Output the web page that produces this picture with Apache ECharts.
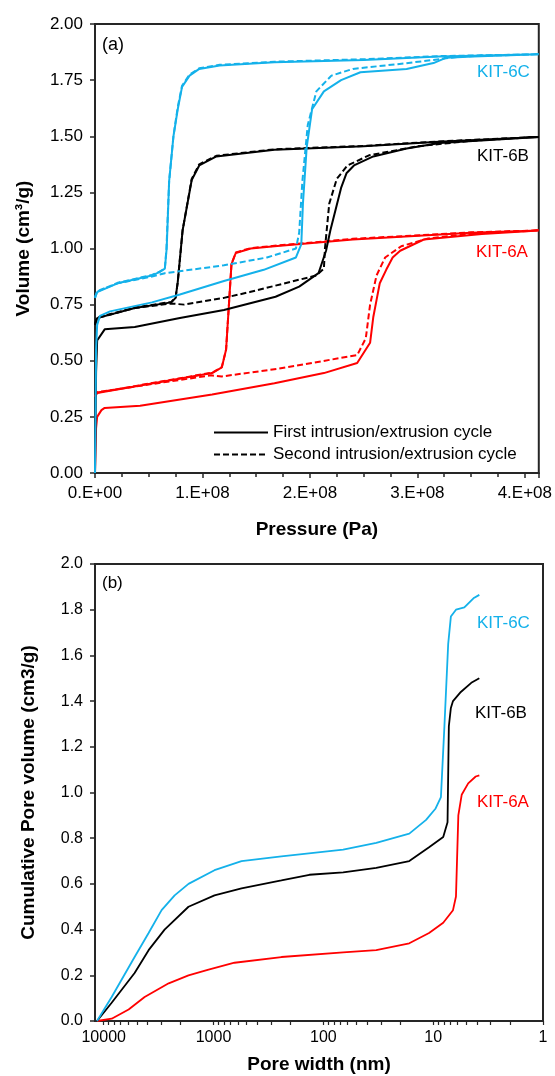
<!DOCTYPE html>
<html>
<head>
<meta charset="utf-8">
<script src="https://cdn.jsdelivr.net/npm/echarts@6/dist/echarts.min.js"></script>
<style>
  html, body { margin: 0; padding: 0; background: #fff; }
  #chart { width: 555px; height: 1076px; }
</style>
</head>
<body>
<div id="chart"></div>
<script>
// (a) intrusion/extrusion cycles: [pressure Pa, volume cm3/g], in measured order
var kit6cFirst = [
  [0, 0], [0.01e8, 0.55], [0.02e8, 0.66], [0.046e8, 0.70], [0.14e8, 0.72], [0.53e8, 0.76],
  [0.79e8, 0.795], [1.2e8, 0.855], [1.57e8, 0.905], [1.87e8, 0.96], [1.92e8, 1.02],
  [1.935e8, 1.20], [1.97e8, 1.45], [2.02e8, 1.62], [2.13e8, 1.70], [2.29e8, 1.75],
  [2.47e8, 1.785], [2.9e8, 1.80], [3.15e8, 1.826], [3.27e8, 1.85], [3.52e8, 1.855], [4.13e8, 1.865],
  // extrusion
  [3.2e8, 1.855], [2.5e8, 1.84], [1.67e8, 1.83], [1.16e8, 1.815], [0.97e8, 1.80], [0.88e8, 1.77],
  [0.81e8, 1.72], [0.77e8, 1.62], [0.73e8, 1.50], [0.69e8, 1.30], [0.667e8, 1.0],
  [0.65e8, 0.91], [0.60e8, 0.895], [0.53e8, 0.88], [0.21e8, 0.845], [0.02e8, 0.806], [0, 0.78]
];
var kit6cSecond = [
  [0, 0.78], [0.02e8, 0.81], [0.21e8, 0.845], [0.53e8, 0.875], [0.65e8, 0.89], [1.2e8, 0.925],
  [1.6e8, 0.96], [1.87e8, 1.0], [1.9e8, 1.07], [1.93e8, 1.30], [1.98e8, 1.55], [2.06e8, 1.70],
  [2.2e8, 1.77], [2.4e8, 1.80], [2.89e8, 1.825], [3.15e8, 1.84], [3.4e8, 1.855], [3.7e8, 1.86], [4.13e8, 1.865],
  // extrusion
  [3.2e8, 1.857], [2.5e8, 1.843], [1.67e8, 1.832], [1.16e8, 1.818], [0.97e8, 1.803], [0.88e8, 1.775],
  [0.81e8, 1.725], [0.77e8, 1.63], [0.73e8, 1.50], [0.69e8, 1.30], [0.665e8, 1.0],
  [0.65e8, 0.91], [0.60e8, 0.897], [0.53e8, 0.882], [0.21e8, 0.847], [0.02e8, 0.808], [0, 0.785]
];
var kit6bFirst = [
  [0, 0], [0.01e8, 0.45], [0.02e8, 0.59], [0.09e8, 0.64], [0.37e8, 0.65], [0.79e8, 0.69],
  [1.2e8, 0.726], [1.68e8, 0.785], [1.9e8, 0.83], [2.08e8, 0.89], [2.15e8, 0.99],
  [2.19e8, 1.08], [2.29e8, 1.27], [2.34e8, 1.335], [2.41e8, 1.37], [2.59e8, 1.41],
  [2.9e8, 1.445], [3.21e8, 1.47], [4.13e8, 1.497],
  // extrusion
  [3.2e8, 1.475], [2.5e8, 1.455], [1.67e8, 1.44], [1.13e8, 1.41], [0.97e8, 1.37],
  [0.90e8, 1.305], [0.815e8, 1.08], [0.77e8, 0.85], [0.75e8, 0.78], [0.71e8, 0.76],
  [0.37e8, 0.735], [0.02e8, 0.69], [0, 0.66]
];
var kit6bSecond = [
  [0, 0.66], [0.02e8, 0.69], [0.37e8, 0.735], [0.71e8, 0.755], [0.83e8, 0.75], [1.2e8, 0.78],
  [1.44e8, 0.806], [2.06e8, 0.88], [2.13e8, 0.91], [2.14e8, 1.0], [2.18e8, 1.2],
  [2.25e8, 1.31], [2.35e8, 1.37], [2.55e8, 1.415], [3.0e8, 1.455], [3.5e8, 1.48], [4.13e8, 1.497],
  // extrusion
  [3.2e8, 1.477], [2.5e8, 1.457], [1.67e8, 1.442], [1.13e8, 1.413], [0.97e8, 1.375],
  [0.90e8, 1.31], [0.815e8, 1.08], [0.77e8, 0.85], [0.75e8, 0.782], [0.71e8, 0.762],
  [0.37e8, 0.737], [0.02e8, 0.692], [0, 0.665]
];
var kit6aFirst = [
  [0, 0], [0.01e8, 0.20], [0.02e8, 0.25], [0.06e8, 0.28], [0.09e8, 0.29], [0.42e8, 0.30],
  [1.09e8, 0.35], [1.67e8, 0.40], [2.13e8, 0.445], [2.44e8, 0.49], [2.56e8, 0.58],
  [2.59e8, 0.695], [2.62e8, 0.77], [2.65e8, 0.845], [2.71e8, 0.905], [2.77e8, 0.96],
  [2.84e8, 0.99], [3.06e8, 1.04], [3.6e8, 1.065], [4.13e8, 1.08],
  // extrusion
  [3.5e8, 1.07], [2.4e8, 1.04], [1.67e8, 1.01], [1.45e8, 1.0], [1.31e8, 0.98], [1.27e8, 0.93],
  [1.245e8, 0.74], [1.22e8, 0.55], [1.18e8, 0.47], [1.09e8, 0.445], [0.02e8, 0.356], [0, 0.34]
];
var kit6aSecond = [
  [0, 0.34], [0.02e8, 0.36], [1.08e8, 0.435], [1.18e8, 0.43], [1.71e8, 0.465], [2.44e8, 0.525],
  [2.52e8, 0.60], [2.56e8, 0.75], [2.62e8, 0.88], [2.7e8, 0.96], [2.85e8, 1.01],
  [3.1e8, 1.045], [3.6e8, 1.07], [4.13e8, 1.08],
  // extrusion
  [3.5e8, 1.072], [2.4e8, 1.043], [1.67e8, 1.012], [1.45e8, 1.002], [1.31e8, 0.982], [1.27e8, 0.93],
  [1.245e8, 0.74], [1.22e8, 0.55], [1.18e8, 0.472], [1.09e8, 0.447], [0.02e8, 0.358], [0, 0.342]
];

// (b) cumulative pore volume: [pore width nm, volume cm3/g]
var kit6cPore = [
  [11500, 0], [8460, 0.105], [5230, 0.28], [3900, 0.385], [2970, 0.485], [2260, 0.55],
  [1690, 0.60], [980, 0.66], [556, 0.70], [241, 0.72], [66, 0.75], [33, 0.78], [16.5, 0.82],
  [11.6, 0.88], [9.5, 0.93], [8.5, 0.98], [7.9, 1.29], [7.3, 1.65], [6.9, 1.77], [6.2, 1.80],
  [5.2, 1.81], [4.3, 1.85], [3.8, 1.865]
];
var kit6bPore = [
  [11500, 0], [8460, 0.08], [5230, 0.21], [3900, 0.31], [2790, 0.40], [1690, 0.50], [980, 0.55],
  [556, 0.58], [241, 0.615], [134, 0.64], [66, 0.65], [33, 0.67], [16.5, 0.70], [10.9, 0.76],
  [8.1, 0.805], [7.4, 0.87], [7.2, 1.29], [6.9, 1.37], [6.6, 1.40], [5.6, 1.44], [4.5, 1.48], [3.8, 1.50]
];
var kit6aPore = [
  [11500, 0], [8460, 0.01], [5930, 0.05], [4240, 0.105], [2560, 0.165], [1690, 0.20],
  [1110, 0.225], [644, 0.255], [241, 0.28], [66, 0.30], [33, 0.31], [16.5, 0.34], [10.9, 0.385],
  [8.1, 0.43], [6.6, 0.485], [6.2, 0.545], [5.9, 0.90], [5.5, 0.99], [4.8, 1.04], [4.1, 1.07], [3.8, 1.075]
];

var majorWidths = [10000, 1000, 100, 10, 1];
var tickWidths = majorWidths.slice();
[1000, 100, 10, 1].forEach(function (d) {
  for (var k = 2; k <= 9; k++) tickWidths.push(d * k);
});

var legendNames = ['First intrusion/extrusion cycle', 'Second intrusion/extrusion cycle'];

var CYAN = '#14b1ea', RED = '#ff0000', BLACK = '#000000';
var FONT = "'Liberation Sans', Arial, sans-serif";
var AXIS = '#262626';

function line(name, data, color, dashed, xi, yi, width) {
  return {
    name: name, type: 'line', data: data, xAxisIndex: xi, yAxisIndex: yi,
    symbol: 'none', showSymbol: false, animation: false, silent: true,
    lineStyle: { color: color, width: width || 2, type: dashed ? [6, 3] : 'solid' },
    itemStyle: { color: color }
  };
}

var chart = echarts.init(document.getElementById('chart'));
chart.setOption({
  backgroundColor: '#fff',
  animation: false,
  textStyle: { fontFamily: FONT },
  grid: [
    { left: 95, right: 14, top: 24, height: 449, show: true, borderColor: AXIS, borderWidth: 2 },
    { left: 95, right: 12, top: 564, height: 457, show: true, borderColor: AXIS, borderWidth: 2 }
  ],
  legend: {
    data: legendNames, orient: 'vertical', left: 208, top: 419, itemGap: 5,
    itemWidth: 54, itemHeight: 14, selectedMode: false,
    itemStyle: { opacity: 0 },
    textStyle: { fontSize: 17, color: '#000', fontFamily: FONT }
  },
  xAxis: [
    {
      gridIndex: 0, type: 'value', min: 0, max: 4.13e8, interval: 1e8,
      name: 'Pressure (Pa)', nameLocation: 'middle', nameGap: 47,
      nameTextStyle: { fontSize: 19, fontWeight: 'bold', color: '#000' },
      axisLine: { lineStyle: { color: AXIS, width: 2 } },
      axisTick: { length: 5, lineStyle: { color: AXIS, width: 1.5 } },
      minorTick: { show: true, splitNumber: 4, length: 4, lineStyle: { color: AXIS, width: 1.5 } },
      splitLine: { show: false },
      axisLabel: {
        fontSize: 17, color: '#000', margin: 12, showMaxLabel: false,
        formatter: function (v) {
          var n = Math.round(v / 1e8 * 1000) / 1000;
          if (n % 1 !== 0) return '';
          return n === 0 ? '0.E+00' : n + '.E+08';
        }
      }
    },
    {
      gridIndex: 1, type: 'log', min: 1, max: 12000, inverse: true, position: 'bottom',
      name: 'Pore width (nm)', nameLocation: 'middle', nameGap: 34,
      nameTextStyle: { fontSize: 19, fontWeight: 'bold', color: '#000' },
      axisLine: { lineStyle: { color: AXIS, width: 2 } },
      axisTick: { length: 4, customValues: tickWidths, lineStyle: { color: AXIS, width: 1.2 } },
      splitLine: { show: false },
      axisLabel: {
        fontSize: 16, color: '#000', margin: 9, customValues: majorWidths,
        formatter: function (v) { return String(v); }
      }
    }
  ],
  yAxis: [
    {
      gridIndex: 0, type: 'value', min: 0, max: 2, interval: 0.25,
      name: 'Volume (cm³/g)', nameLocation: 'middle', nameGap: 62,
      nameTextStyle: { fontSize: 19, fontWeight: 'bold', color: '#000' },
      axisLine: { show: true, lineStyle: { color: AXIS, width: 2 } },
      axisTick: { show: true, length: 5, lineStyle: { color: AXIS, width: 1.5 } },
      splitLine: { show: false },
      axisLabel: { fontSize: 17, color: '#000', margin: 12, formatter: function (v) { return v.toFixed(2); } }
    },
    {
      gridIndex: 1, type: 'value', min: 0, max: 2, interval: 0.2,
      name: 'Cumulative Pore volume (cm3/g)', nameLocation: 'middle', nameGap: 57,
      nameTextStyle: { fontSize: 19, fontWeight: 'bold', color: '#000' },
      axisLine: { show: true, lineStyle: { color: AXIS, width: 2 } },
      axisTick: { show: true, length: 5, lineStyle: { color: AXIS, width: 1.5 } },
      splitLine: { show: false },
      axisLabel: { fontSize: 16, color: '#000', margin: 12, formatter: function (v) { return v.toFixed(1); } }
    }
  ],
  graphic: [
    { type: 'text', left: 102, top: 36, style: { text: '(a)', fill: '#000', font: '18px ' + FONT } },
    { type: 'text', left: 102, top: 575, style: { text: '(b)', fill: '#000', font: '17px ' + FONT } },
    { type: 'text', left: 477, top: 64, style: { text: 'KIT-6C', fill: CYAN, font: '17px ' + FONT } },
    { type: 'text', left: 477, top: 148, style: { text: 'KIT-6B', fill: BLACK, font: '17px ' + FONT } },
    { type: 'text', left: 476, top: 244, style: { text: 'KIT-6A', fill: RED, font: '17px ' + FONT } },
    { type: 'text', left: 477, top: 615, style: { text: 'KIT-6C', fill: CYAN, font: '17px ' + FONT } },
    { type: 'text', left: 475, top: 705, style: { text: 'KIT-6B', fill: BLACK, font: '17px ' + FONT } },
    { type: 'text', left: 477, top: 794, style: { text: 'KIT-6A', fill: RED, font: '17px ' + FONT } }
  ],
  series: [
    line(legendNames[0], [], BLACK, false, 0, 0),
    line(legendNames[1], [], BLACK, true, 0, 0),
    line('KIT-6A first', kit6aFirst, RED, false, 0, 0),
    line('KIT-6A second', kit6aSecond, RED, true, 0, 0),
    line('KIT-6B first', kit6bFirst, BLACK, false, 0, 0),
    line('KIT-6B second', kit6bSecond, BLACK, true, 0, 0),
    line('KIT-6C first', kit6cFirst, CYAN, false, 0, 0),
    line('KIT-6C second', kit6cSecond, CYAN, true, 0, 0),
    line('KIT-6A pore', kit6aPore, RED, false, 1, 1, 1.8),
    line('KIT-6B pore', kit6bPore, BLACK, false, 1, 1, 1.8),
    line('KIT-6C pore', kit6cPore, CYAN, false, 1, 1, 1.8)
  ]
});
</script>
</body>
</html>
